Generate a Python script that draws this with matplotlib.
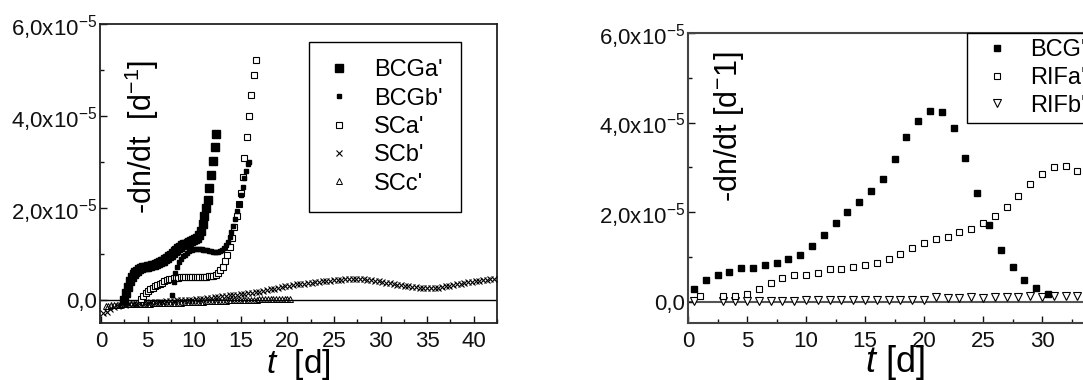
import numpy as np
import matplotlib
matplotlib.use('Agg')
import matplotlib.pyplot as plt
from matplotlib.ticker import MultipleLocator

plt.rcParams['font.family'] = ['Liberation Sans', 'DejaVu Sans']
plt.rcParams['mathtext.fontset'] = 'custom'
plt.rcParams['mathtext.rm'] = 'Liberation Sans'
plt.rcParams['mathtext.it'] = 'Liberation Sans:italic'
plt.rcParams['mathtext.default'] = 'regular'

E = 1e-6  # all series below are in units of 1e-6 d^-1

# ---- left panel ----
bcga_t = [2.5, 2.7, 2.9, 3.1, 3.3, 3.5, 3.7, 3.9, 4.1, 4.3,
          4.5, 4.7, 4.9, 5.1, 5.3, 5.5, 5.7, 5.9, 6.1, 6.3,
          6.5, 6.7, 6.9, 7.1, 7.3, 7.5, 7.7, 7.9, 8.1, 8.3,
          8.5, 8.7, 8.9, 9.1, 9.3, 9.5, 9.7, 9.9, 10.1, 10.3,
          10.5, 10.7, 10.9, 11.1, 11.3, 11.45, 11.6, 11.8, 12.0, 12.2, 12.4]
bcga_y = [0.0, 1.5, 2.9, 4.1, 5.1, 5.7, 6.1, 6.4, 6.7, 6.9,
          7.1, 7.2, 7.3, 7.4, 7.5, 7.6, 7.7, 7.9, 8.0, 8.2,
          8.4, 8.6, 8.9, 9.2, 9.5, 9.9, 10.3, 10.7, 11.0, 11.3,
          11.6, 11.9, 12.1, 12.3, 12.5, 12.7, 12.9, 13.1, 13.3, 13.6,
          14.1, 15.0, 16.5, 18.2, 20.0, 21.7, 24.3, 27.2, 30.3, 33.3, 36.2]

bcgb_t = [7.6, 7.8, 8.0, 8.2, 8.4, 8.6, 8.8, 9.0, 9.2, 9.4,
          9.6, 9.8, 10.0, 10.2, 10.4, 10.6, 10.8, 11.0, 11.2, 11.4,
          11.6, 11.8, 12.0, 12.2, 12.4, 12.6, 12.8, 13.0, 13.2, 13.4,
          13.6, 13.8, 14.0, 14.2, 14.4, 14.6, 14.8, 15.0, 15.2, 15.4,
          15.6, 15.8, 15.9]
bcgb_y = [1.1, 4.0, 5.9, 7.3, 8.3, 9.0, 9.5, 9.9, 10.3, 10.6,
          10.8, 11.0, 11.1, 11.2, 11.2, 11.2, 11.1, 11.0, 10.9, 10.8,
          10.7, 10.6, 10.5, 10.5, 10.5, 10.5, 10.7, 10.9, 11.3, 11.9,
          12.7, 13.7, 14.9, 16.2, 17.7, 19.3, 21.0, 22.8, 24.7, 26.5,
          28.2, 29.6, 30.0]

sca_t = [4.3, 4.55, 4.8, 5.05, 5.3, 5.55, 5.8, 6.05, 6.3, 6.55,
         6.8, 7.05, 7.3, 7.55, 7.8, 8.05, 8.3, 8.55, 8.8, 9.05,
         9.3, 9.55, 9.8, 10.05, 10.3, 10.55, 10.8, 11.05, 11.3, 11.55,
         11.8, 12.05, 12.3, 12.55, 12.8, 13.05, 13.3, 13.55, 13.8, 14.05,
         14.3, 14.55, 14.8, 15.0, 15.2, 15.4, 15.65, 15.9, 16.15, 16.4, 16.65]
sca_y = [0.2, 0.9, 1.5, 1.9, 2.3, 2.7, 3.0, 3.3, 3.6, 3.8,
         4.1, 4.3, 4.5, 4.6, 4.7, 4.8, 4.9, 4.95, 5.0, 5.0,
         5.05, 5.1, 5.1, 5.1, 5.1, 5.1, 5.1, 5.1, 5.1, 5.15,
         5.2, 5.3, 5.5, 5.9, 6.5, 7.3, 8.4, 9.9, 11.6, 13.6,
         15.8, 18.3, 21.0, 23.4, 26.8, 31.0, 35.4, 40.0, 44.7, 48.9, 52.3]

scb_t = [0.2, 0.6, 1.0, 1.4, 1.8, 2.2, 2.6, 3.0, 3.4, 3.8,
         4.2, 4.6, 5.0, 5.4, 5.8, 6.2, 6.6, 7.0, 7.4, 7.8,
         8.2, 8.6, 9.0, 9.4, 9.8, 10.2, 10.6, 11.0, 11.4, 11.8,
         12.2, 12.6, 13.0, 13.4, 13.8, 14.2, 14.6, 15.0, 15.4, 15.8,
         16.2, 16.6, 17.0, 17.4, 17.8, 18.2, 18.6, 19.0, 19.4, 19.8,
         20.2, 20.6, 21.0, 21.4, 21.8, 22.2, 22.6, 23.0, 23.4, 23.8,
         24.2, 24.6, 25.0, 25.4, 25.8, 26.2, 26.6, 27.0, 27.4, 27.8,
         28.2, 28.6, 29.0, 29.4, 29.8, 30.2, 30.6, 31.0, 31.4, 31.8,
         32.2, 32.6, 33.0, 33.4, 33.8, 34.2, 34.6, 35.0, 35.4, 35.8,
         36.2, 36.6, 37.0, 37.4, 37.8, 38.2, 38.6, 39.0, 39.4, 39.8,
         40.2, 40.6, 41.0, 41.4, 41.8, 42.2]
scb_y = [-2.9, -2.6, -2.0, -1.6, -1.3, -1.1, -1.0, -0.9, -0.85, -0.8,
         -0.7, -0.65, -0.6, -0.5, -0.45, -0.4, -0.35, -0.3, -0.25, -0.2,
         -0.1, -0.05, 0.0, 0.05, 0.1, 0.15, 0.2, 0.3, 0.4, 0.5,
         0.6, 0.7, 0.8, 0.9, 1.0, 1.1, 1.2, 1.3, 1.4, 1.5,
         1.6, 1.7, 1.85, 2.0, 2.15, 2.3, 2.45, 2.6, 2.8, 2.95,
         3.1, 3.25, 3.4, 3.5, 3.6, 3.7, 3.8, 3.9, 4.0, 4.1,
         4.2, 4.25, 4.3, 4.4, 4.45, 4.5, 4.55, 4.55, 4.6, 4.55,
         4.5, 4.45, 4.35, 4.25, 4.1, 3.95, 3.8, 3.65, 3.5, 3.35,
         3.2, 3.05, 2.95, 2.85, 2.75, 2.7, 2.65, 2.6, 2.6, 2.65,
         2.7, 2.8, 2.95, 3.1, 3.25, 3.4, 3.55, 3.7, 3.85, 4.0,
         4.1, 4.25, 4.35, 4.45, 4.55, 4.6]

scc_t = [0.5, 0.8, 1.1, 1.4, 1.7, 2.0, 2.3, 2.6, 2.9, 3.2,
         3.5, 3.8, 4.1, 4.4, 4.7, 5.0, 5.3, 5.6, 5.9, 6.2,
         6.5, 6.8, 7.1, 7.4, 7.7, 8.0, 8.3, 8.6, 8.9, 9.2,
         9.5, 9.8, 10.1, 10.4, 10.7, 11.0, 11.3, 11.6, 11.9, 12.2,
         12.5, 12.8, 13.1, 13.4, 13.7, 14.0, 14.3, 14.6, 14.9, 15.2,
         15.5, 15.8, 16.1, 16.4, 16.7, 17.0, 17.3, 17.6, 17.9, 18.2,
         18.5, 18.8, 19.1, 19.4, 19.7, 20.0, 20.3]
scc_y = [-1.3, -1.2, -1.1, -1.05, -1.0, -1.0, -0.95, -0.95, -0.9, -0.9,
         -0.9, -0.85, -0.85, -0.85, -0.8, -0.8, -0.8, -0.75, -0.75, -0.7,
         -0.7, -0.7, -0.65, -0.65, -0.6, -0.6, -0.55, -0.55, -0.5, -0.5,
         -0.45, -0.45, -0.4, -0.4, -0.35, -0.35, -0.3, -0.3, -0.25, -0.25,
         -0.2, -0.2, -0.15, -0.15, -0.1, -0.1, -0.05, -0.05, 0.0, 0.0,
         0.05, 0.05, 0.1, 0.1, 0.1, 0.15, 0.15, 0.15, 0.2, 0.2,
         0.2, 0.2, 0.25, 0.25, 0.25, 0.25, 0.25]

# ---- right panel ----
bcg_t = [0.5, 1.5, 2.5, 3.5, 4.5, 5.5, 6.5, 7.5, 8.5, 9.5,
         10.5, 11.5, 12.5, 13.5, 14.5, 15.5, 16.5, 17.5, 18.5, 19.5,
         20.5, 21.5, 22.5, 23.5, 24.5, 25.5, 26.5, 27.5, 28.5, 29.5, 30.5]
bcg_y = [2.9, 4.9, 6.0, 6.7, 7.4, 7.5, 8.2, 8.6, 9.4, 10.4,
         12.3, 14.9, 17.5, 19.9, 22.2, 24.8, 27.3, 31.9, 36.7, 40.4,
         42.6, 42.4, 38.7, 32.0, 24.3, 17.0, 11.6, 7.7, 4.9, 3.0, 1.6]

rifa_t = [1, 3, 4, 5, 6, 7, 8, 9, 10, 11,
          12, 13, 14, 15, 16, 17, 18, 19, 20, 21,
          22, 23, 24, 25, 26, 27, 28, 29, 30, 31, 32, 33]
rifa_y = [1.2, 1.2, 1.3, 1.7, 2.9, 4.2, 5.3, 6.0, 6.0, 6.4,
          7.3, 7.3, 7.7, 8.1, 8.7, 9.4, 10.7, 12.0, 13.0, 13.9,
          14.5, 15.5, 16.3, 17.6, 19.2, 21.1, 23.5, 26.2, 28.4, 30.0, 30.3, 29.2]

rifb_t = [0.5, 3, 4, 5, 6, 7, 8, 9, 10, 11,
          12, 13, 14, 15, 16, 17, 18, 19, 20, 21,
          22, 23, 24, 25, 26, 27, 28, 29, 30, 31, 32, 33]
rifb_y = [0.2, 0.2, 0.2, 0.2, 0.2, 0.2, 0.2, 0.2, 0.4, 0.4,
          0.4, 0.4, 0.4, 0.4, 0.4, 0.4, 0.4, 0.4, 0.4, 1.0,
          0.8, 0.8, 1.1, 0.8, 1.1, 1.1, 1.1, 1.2, 1.1, 1.2, 1.3, 1.3]

ytick_vals = [0, 2e-5, 4e-5, 6e-5]
ytick_text = ['0,0', r'2,0x10$^{-5}$', r'4,0x10$^{-5}$', r'6,0x10$^{-5}$']


def style_axes(ax, xmax_tick, spine_col, spine_w):
    ax.set_yticks(ytick_vals)
    ax.set_yticklabels(ytick_text)
    ax.yaxis.set_minor_locator(MultipleLocator(1e-5))
    ax.set_xticks(range(0, xmax_tick + 1, 5))
    ax.xaxis.set_minor_locator(MultipleLocator(2.5))
    ax.tick_params(which='both', direction='in', top=False, right=False,
                   width=1, colors='#111111', labelsize=16)
    ax.tick_params(which='major', length=5)
    ax.tick_params(which='minor', length=3)
    ax.tick_params(axis='x', pad=6)
    ax.tick_params(axis='y', pad=2)
    for s in ax.spines.values():
        s.set_color(spine_col)
        s.set_linewidth(spine_w)


fig = plt.figure(figsize=(10.83, 3.8), dpi=100)
ax1 = fig.add_axes([100 / 1083, 57 / 380, 397 / 1083, 298.5 / 380])
ax2 = fig.add_axes([688 / 1083, 57 / 380, 413 / 1083, 290 / 380])

# left
ax1.axhline(0, color='black', lw=1, zorder=1)
ax1.plot(bcga_t, np.array(bcga_y) * E, 's', color='black', ms=5.5, label="BCGa'", zorder=6)
ax1.plot(bcgb_t, np.array(bcgb_y) * E, 's', color='black', ms=3, label="BCGb'", zorder=5)
ax1.plot(sca_t, np.array(sca_y) * E, 's', mfc='white', mec='black', ms=4.5, mew=0.8,
         label="SCa'", zorder=4)
ax1.plot(scb_t, np.array(scb_y) * E, 'x', color='black', ms=4, mew=0.8, label="SCb'", zorder=3)
ax1.plot(scc_t, np.array(scc_y) * E, '^', mfc='none', mec='black', ms=5, mew=0.7,
         label="SCc'", zorder=2)
ax1.set_xlim(-0.1, 42.5)
ax1.set_ylim(-5e-6, 6e-5)
style_axes(ax1, 40, '#222222', 1.3)
ax1.text(0.106, 0.622, r'-dn/dt  [d$^{-1}$]', transform=ax1.transAxes, rotation=90,
         ha='center', va='center', fontsize=22)
ax1.set_xlabel(r'$\mathit{t}$  [d]', fontsize=24)
ax1.xaxis.label.set_va('baseline')
ax1.xaxis.set_label_coords(0.5, -0.167)
leg1 = ax1.legend(loc='upper left', bbox_to_anchor=(0.526, 0.943), borderaxespad=0,
                  fancybox=False, edgecolor='black', framealpha=1, fontsize=17,
                  handlelength=1.05, handletextpad=0.97, borderpad=0.75,
                  labelspacing=0.27, numpoints=1)
leg1.get_frame().set_linewidth(1.0)

# right
ax2.axhline(0, color='#555555', lw=1.5, zorder=1)
ax2.plot(bcg_t, np.array(bcg_y) * E, 's', color='black', ms=5, label="BCG'", zorder=4)
ax2.plot(rifa_t, np.array(rifa_y) * E, 's', mfc='white', mec='black', ms=4.5, mew=0.8,
         label="RIFa'", zorder=3)
ax2.plot(rifb_t, np.array(rifb_y) * E, 'v', mfc='white', mec='black', ms=5.5, mew=0.8,
         label="RIFb'", zorder=2)
ax2.set_xlim(0, 35)
ax2.set_ylim(-4.8e-6, 6e-5)
style_axes(ax2, 35, '#444444', 1.5)
ax2.text(0.0985, 0.679, r'-dn/dt [d$^{-}$1]', transform=ax2.transAxes, rotation=90,
         ha='center', va='center', fontsize=22)
ax2.set_xlabel(r'$\mathit{t}$ [d]', fontsize=26)
ax2.xaxis.label.set_va('baseline')
ax2.xaxis.set_label_coords(0.5, -0.169)
leg2 = ax2.legend(loc='upper left', bbox_to_anchor=(0.675, 1.0), borderaxespad=0,
                  fancybox=False, edgecolor='black', framealpha=1, fontsize=17,
                  handlelength=2.1, handletextpad=0.35, borderpad=0.25,
                  labelspacing=0.25, numpoints=1)
leg2.get_frame().set_linewidth(1.0)

fig.savefig('out.png', dpi=100)
